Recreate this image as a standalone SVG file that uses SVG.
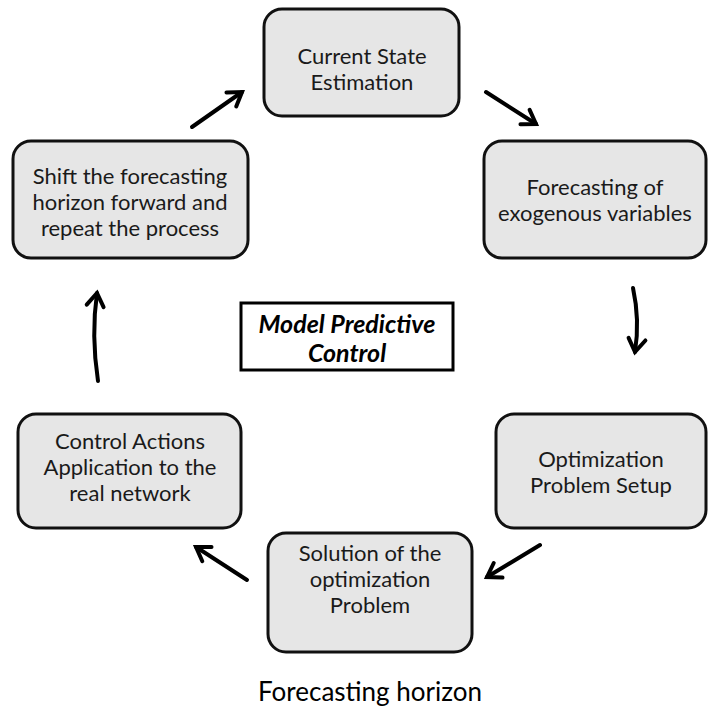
<svg xmlns="http://www.w3.org/2000/svg" width="709" height="712" viewBox="0 0 709 712">
<style>
.box{fill:#e6e6e6;stroke:#111;stroke-width:3}
.t{font-family:Lato,"Open Sans","Liberation Sans",sans-serif;font-size:22px;fill:#1a1a1a;text-anchor:middle}
.mpc{font-family:Lato,"Open Sans","Liberation Sans",sans-serif;font-size:25px;font-weight:bold;font-style:italic;fill:#000;text-anchor:middle}
.foot{font-family:Lato,"Open Sans","Liberation Sans",sans-serif;font-size:26px;fill:#000;text-anchor:middle}
.arr{fill:none;stroke:#000;stroke-width:4;stroke-linecap:round;marker-end:url(#ah)}
</style>
<defs>
<marker id="ah" markerUnits="userSpaceOnUse" markerWidth="26" markerHeight="26" viewBox="-19 -13 26 26" refX="0" refY="0" orient="auto">
<path d="M-13,-8.5 L0,0 L-13,8.5" fill="none" stroke="#000" stroke-width="4" stroke-linecap="round"/>
</marker>
</defs>
<rect width="709" height="712" fill="#fff"/>
<g id="connectors">
<path class="arr" d="M192,127 L242,92"/>
<path class="arr" d="M486,92 L536,124"/>
<path class="arr" d="M633,288 Q640,320 635,352"/>
<path class="arr" d="M540,545 L487,577"/>
<path class="arr" d="M247,580 L196,547"/>
<path class="arr" d="M98,381 Q91,335 97,293"/>
</g>
<g id="current-state">
<rect class="box" x="264" y="9" width="195" height="107" rx="18"/>
<text class="t" x="362" y="64">Current State</text>
<text class="t" x="362" y="90">Estimation</text>
</g>
<g id="forecasting">
<rect class="box" x="484" y="141" width="222" height="117" rx="18"/>
<text class="t" x="595" y="195">Forecasting of</text>
<text class="t" x="595" y="221">exogenous variables</text>
</g>
<g id="optimization-setup">
<rect class="box" x="496" y="414" width="210" height="114" rx="18"/>
<text class="t" x="601" y="467">Optimization</text>
<text class="t" x="601" y="493">Problem Setup</text>
</g>
<g id="solution">
<rect class="box" x="268" y="533" width="204" height="119" rx="18"/>
<text class="t" x="370" y="561">Solution of the</text>
<text class="t" x="370" y="587">optimization</text>
<text class="t" x="370" y="613">Problem</text>
</g>
<g id="control-actions">
<rect class="box" x="18" y="414" width="223" height="114" rx="18"/>
<text class="t" x="130" y="449">Control Actions</text>
<text class="t" x="130" y="475">Application to the</text>
<text class="t" x="130" y="501">real network</text>
</g>
<g id="shift">
<rect class="box" x="13" y="141" width="235" height="117" rx="18"/>
<text class="t" x="130" y="184">Shift the forecasting</text>
<text class="t" x="130" y="210">horizon forward and</text>
<text class="t" x="130" y="236">repeat the process</text>
</g>
<g id="mpc">
<rect x="241" y="303" width="212" height="67" fill="#fff" stroke="#000" stroke-width="3"/>
<text class="mpc" x="347" y="333">Model Predictive</text>
<text class="mpc" x="347" y="362">Control</text>
</g>
<g id="footer">
<text class="foot" x="370" y="701">Forecasting horizon</text>
</g>
</svg>
